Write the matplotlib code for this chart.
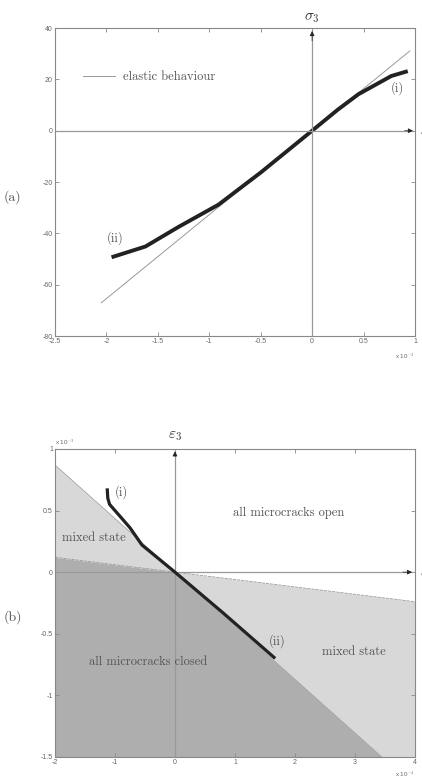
import numpy as np
import matplotlib
matplotlib.use('Agg')
import matplotlib.pyplot as plt

plt.rcParams['mathtext.fontset'] = 'cm'

# (a) stress-strain data (strain in 1e-3)
elastic_x = [-2.05, 0.95]
elastic_slope = 32.7
curve_a_x = [-1.95, -1.62, -1.3, -0.91, -0.5, 0.0, 0.25, 0.45, 0.77, 0.93]
curve_a_y = [-49.3, -45.1, -37.5, -28.8, -16.3, 0.0, 8.2, 14.2, 21.3, 23.2]
xticks_a = [-2.5, -2, -1.5, -1, -0.5, 0, 0.5, 1]
yticks_a = [-80, -60, -40, -20, 0, 20, 40]

# (b) strain paths (x in 1e-4, y in 1e-3)
slope_upper = -0.435
slope_lower = -0.06
curve_b_x = [-1.13, -1.12, -1.09, -0.75, -0.55, 0.0, 0.8, 1.67]
curve_b_y = [0.68, 0.60, 0.55, 0.36, 0.22, 0.0, -0.33, -0.70]
xticks_b = [-2, -1, 0, 1, 2, 3, 4]
yticks_b = [-1.5, -1, -0.5, 0, 0.5, 1]

serif = 'cmr10'
txt_col = '#555555'
tick_col = '#666666'

fig = plt.figure(figsize=(4.22, 7.78), dpi=100)
ax1 = fig.add_axes([0.1303, 0.568, 0.853, 0.396])
ax2 = fig.add_axes([0.1303, 0.027, 0.853, 0.396])


def style_axes(ax, xt, yt):
    ax.set_xticks(xt)
    ax.set_yticks(yt)
    ax.set_xticklabels([('%g' % v) for v in xt])
    ax.set_yticklabels([('%g' % v) for v in yt])
    ax.tick_params(direction='in', length=3, width=0.6, color='#888888',
                   top=True, right=True, labelsize=5, labelcolor=tick_col,
                   pad=1.5)
    for lab in ax.get_xticklabels() + ax.get_yticklabels():
        lab.set_family('Liberation Sans')
    for s in ax.spines.values():
        s.set_color('#888888')
        s.set_linewidth(0.8)


# ---------------- panel (a)
ex = np.array(elastic_x)
ax1.plot(ex, elastic_slope * ex, color='#999999', lw=0.7,
         label='elastic behaviour')
ax1.plot(curve_a_x, curve_a_y, color='#222222', lw=2.8,
         solid_capstyle='butt')
ax1.plot([0, 0], [-80, 38.8], color='#999999', lw=0.9)
ax1.plot([-2.5, 0.98], [0, 0], color='#999999', lw=0.9)
ax1.annotate('', xy=(0, 38.8), xytext=(0, 35),
             arrowprops=dict(arrowstyle='-|>', color='#222222', lw=0.5,
                             mutation_scale=7, shrinkA=0, shrinkB=0))
ax1.annotate('', xy=(0.98, 0), xytext=(0.9, 0),
             arrowprops=dict(arrowstyle='-|>', color='#222222', lw=0.5,
                             mutation_scale=7, shrinkA=0, shrinkB=0))
ax1.set_xlim(-2.5, 1)
ax1.set_ylim(-80, 40)
style_axes(ax1, xticks_a, yticks_a)
leg = ax1.legend(loc='center left', bbox_to_anchor=(0.06, 0.841),
                 frameon=False, handlelength=2.6, handletextpad=0.6,
                 borderpad=0, prop={'family': serif, 'size': 9})
for t in leg.get_texts():
    t.set_color(txt_col)
ax1.text(0.83, 16.6, '(i)', family=serif, fontsize=9, color=txt_col,
         ha='center', va='center')
ax1.text(-1.92, -41.7, '(ii)', family=serif, fontsize=9, color=txt_col,
         ha='center', va='center')
ax1.text(0, 44, r'$\sigma_3$', fontsize=11, color='#333333',
         ha='center', va='center', clip_on=False)
ax1.text(1.0, -0.05, r'x 10$^{-3}$', transform=ax1.transAxes, fontsize=4.5,
         color=tick_col, ha='right', va='top', family='Liberation Sans')
fig.text(0.995, 1 - 131 / 778, r'$\varepsilon$', fontsize=10,
         color='#333333', ha='left', va='center')
fig.text(0.03, 1 - 197 / 778, '(a)', family=serif, fontsize=10,
         color=txt_col, ha='center', va='center')

# ---------------- panel (b)
xs = np.linspace(-2, 4, 400)
up = slope_upper * xs
lo = slope_lower * xs
ax2.fill_between(xs, -1.5, np.minimum(up, lo), color='#aeaeae', lw=0)
ax2.fill_between(xs, np.minimum(up, lo), np.maximum(up, lo),
                 color='#d8d8d8', lw=0)
ax2.plot(xs, up, color='#999999', lw=0.5)
ax2.plot(xs, lo, color='#999999', lw=0.6, ls=(0, (4, 1)))
ax2.plot([0, 0], [-1.5, 0.98], color='#999999', lw=0.9)
ax2.plot([-2, 3.95], [0, 0], color='#999999', lw=0.9)
ax2.annotate('', xy=(0, 0.98), xytext=(0, 0.94),
             arrowprops=dict(arrowstyle='-|>', color='#222222', lw=0.5,
                             mutation_scale=7, shrinkA=0, shrinkB=0))
ax2.annotate('', xy=(3.95, 0), xytext=(3.8, 0),
             arrowprops=dict(arrowstyle='-|>', color='#222222', lw=0.5,
                             mutation_scale=7, shrinkA=0, shrinkB=0))
ax2.plot(curve_b_x, curve_b_y, color='#222222', lw=2.3,
         solid_capstyle='butt')
ax2.set_xlim(-2, 4)
ax2.set_ylim(-1.5, 1)
style_axes(ax2, xticks_b, yticks_b)

ax2.text(-0.9, 0.65, '(i)', family=serif, fontsize=9, color=txt_col,
         ha='center', va='center')
ax2.text(1.7, -0.56, '(ii)', family=serif, fontsize=9, color=txt_col,
         ha='center', va='center')
ax2.text(1.9, 0.48, 'all microcracks open', family=serif, fontsize=9,
         color=txt_col, ha='center', va='center')
ax2.text(-1.35, 0.28, 'mixed state', family=serif, fontsize=9,
         color=txt_col, ha='center', va='center')
ax2.text(2.98, -0.65, 'mixed state', family=serif, fontsize=9,
         color=txt_col, ha='center', va='center')
ax2.text(-0.44, -0.73, 'all microcracks closed', family=serif, fontsize=9,
         color=txt_col, ha='center', va='center')
ax2.text(0, 1.11, r'$\varepsilon_3$', fontsize=11, color='#333333',
         ha='center', va='center', clip_on=False)
ax2.text(0.0, 1.005, r'x 10$^{-3}$', transform=ax2.transAxes, fontsize=4.5,
         color=tick_col, ha='left', va='bottom', family='Liberation Sans')
ax2.text(1.0, -0.04, r'x 10$^{-4}$', transform=ax2.transAxes, fontsize=4.5,
         color=tick_col, ha='right', va='top', family='Liberation Sans')
fig.text(0.995, 1 - 572 / 778, r'$\varepsilon$', fontsize=10,
         color='#333333', ha='left', va='center')
fig.text(0.03, 1 - 617 / 778, '(b)', family=serif, fontsize=10,
         color=txt_col, ha='center', va='center')

fig.savefig('out.png', dpi=100)
